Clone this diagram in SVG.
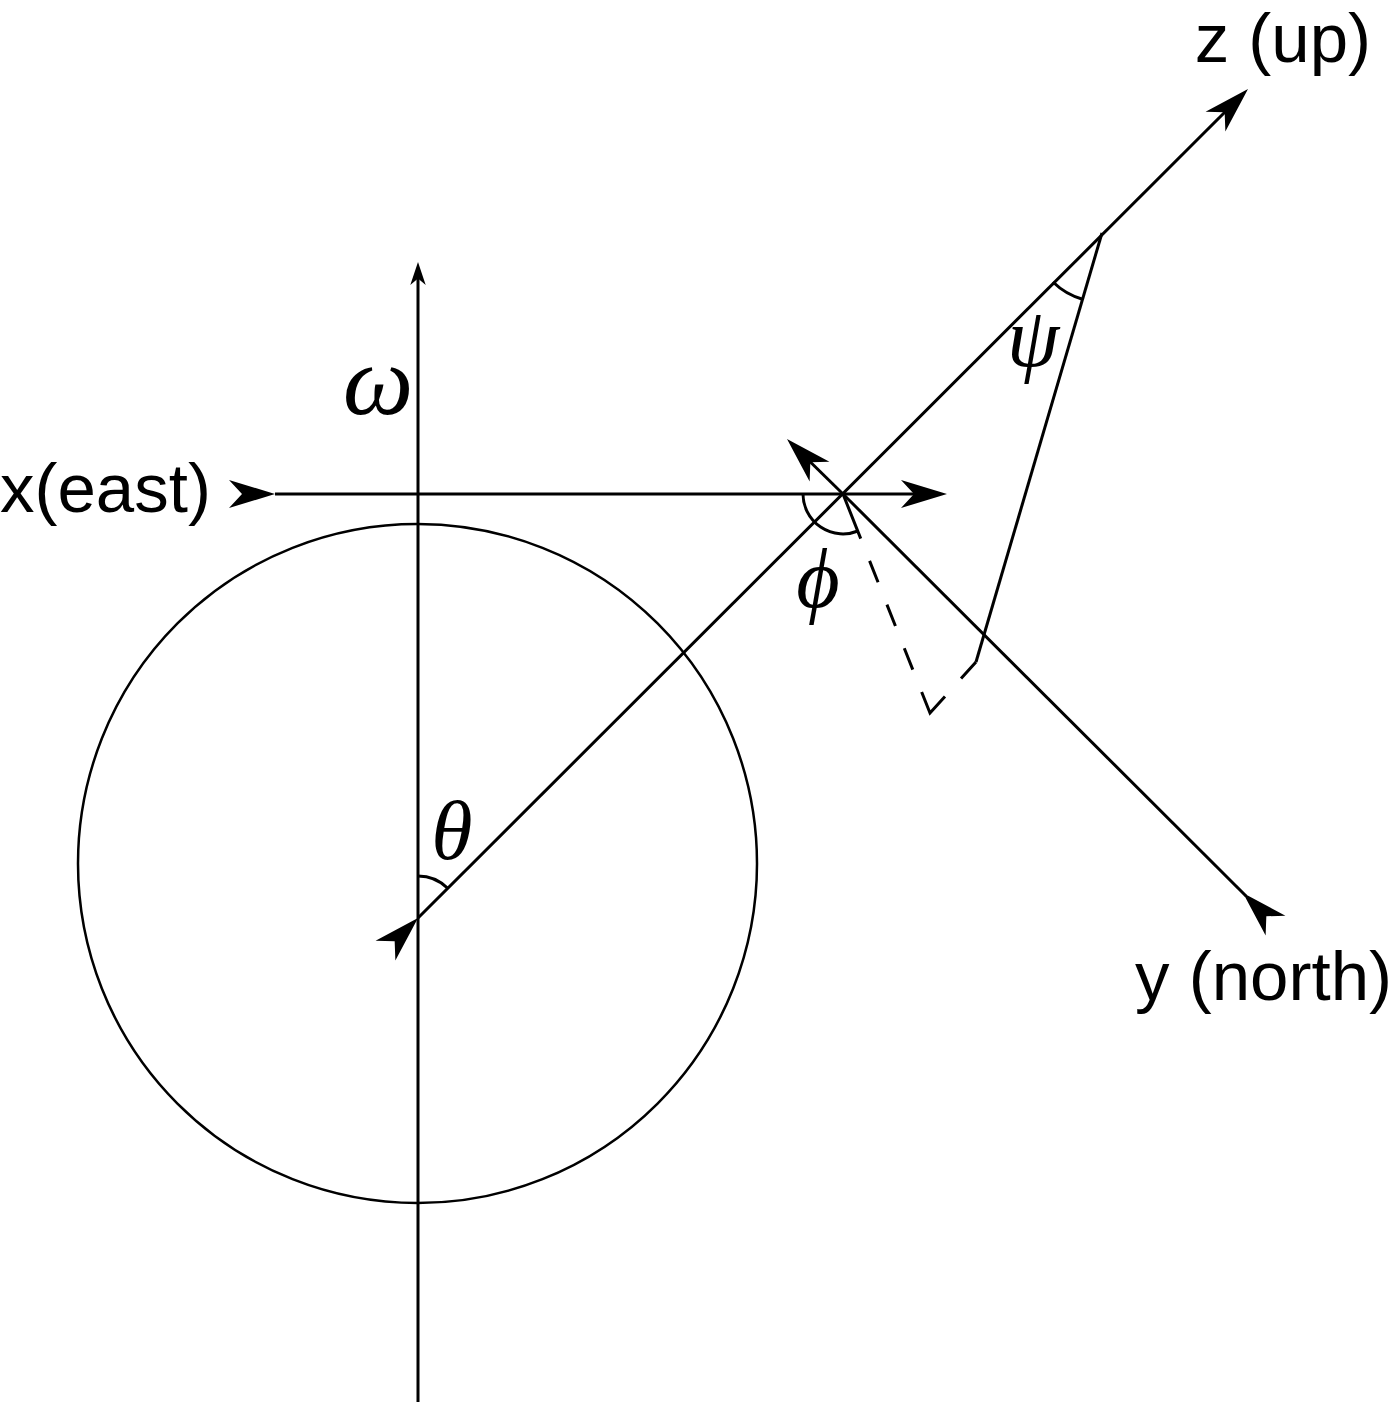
<svg xmlns="http://www.w3.org/2000/svg" xmlns:xlink="http://www.w3.org/1999/xlink" width="1392" height="1404" viewBox="0 0 1392 1404">
<style>
.ln{fill:none;stroke:#000;stroke-width:3}
.lbl{font-family:"Liberation Sans",Arial,sans-serif;font-size:69px;fill:#000}
.gr{font-family:"Liberation Serif","DejaVu Serif",serif;font-style:italic;font-size:84px;fill:#000;text-anchor:middle}
</style>
<defs>
<path id="dart" d="M0,0 L-46,-14 L-33,0 L-46,14 Z" fill="#000"/>
</defs>
<rect width="1392" height="1404" fill="#fff"/>
<g id="earth">
<circle cx="417.5" cy="863.5" r="339.5" class="ln" style="stroke-width:2.5"/>
</g>
<g id="connectors">
<line class="ln" x1="418" y1="272" x2="418" y2="1402"/>
<line class="ln" x1="275" y1="494" x2="935" y2="494"/>
<line class="ln" x1="418" y1="918" x2="1238" y2="99"/>
<line class="ln" x1="843" y1="494" x2="792" y2="444"/>
<line class="ln" x1="843" y1="494" x2="1246" y2="896"/>
<line class="ln" x1="1102" y1="233" x2="976" y2="662"/>
<path class="ln" d="M843,494 L930,713 L976,662" stroke-dasharray="48 24 23 24 23 24 23 24 45 24 23"/>
<path class="ln" d="M418,876 A42,42 0 0 1 447.7,888.3"/>
<path class="ln" d="M803,494 A40,40 0 0 0 858,531"/>
<path class="ln" d="M1053,282 A69,69 0 0 0 1082.5,299.2"/>
<use xlink:href="#dart" transform="translate(275,494)"/>
<use xlink:href="#dart" transform="translate(947,494)"/>
<use xlink:href="#dart" transform="translate(418,262) rotate(-90) scale(0.5,0.55)"/>
<use xlink:href="#dart" transform="translate(787,439) rotate(-135)"/>
<use xlink:href="#dart" transform="translate(1248,89) rotate(-45)"/>
<use xlink:href="#dart" transform="translate(418,918) rotate(-45)"/>
<use xlink:href="#dart" transform="translate(1243,893) rotate(-135)"/>
</g>
<g id="label-x"><text class="lbl" x="0" y="512">x(east)</text></g>
<g id="label-z"><text class="lbl" x="1371" y="62" text-anchor="end">z (up)</text></g>
<g id="label-y"><text class="lbl" x="1392" y="1000" text-anchor="end">y (north)</text></g>
<g id="omega"><text class="gr" x="378" y="414" style="font-size:100px">ω</text></g>
<g id="theta"><text class="gr" x="452" y="859">θ</text></g>
<g id="phi"><text class="gr" x="818" y="607">ϕ</text></g>
<g id="psi"><text class="gr" x="1033" y="366">ψ</text></g>
</svg>
